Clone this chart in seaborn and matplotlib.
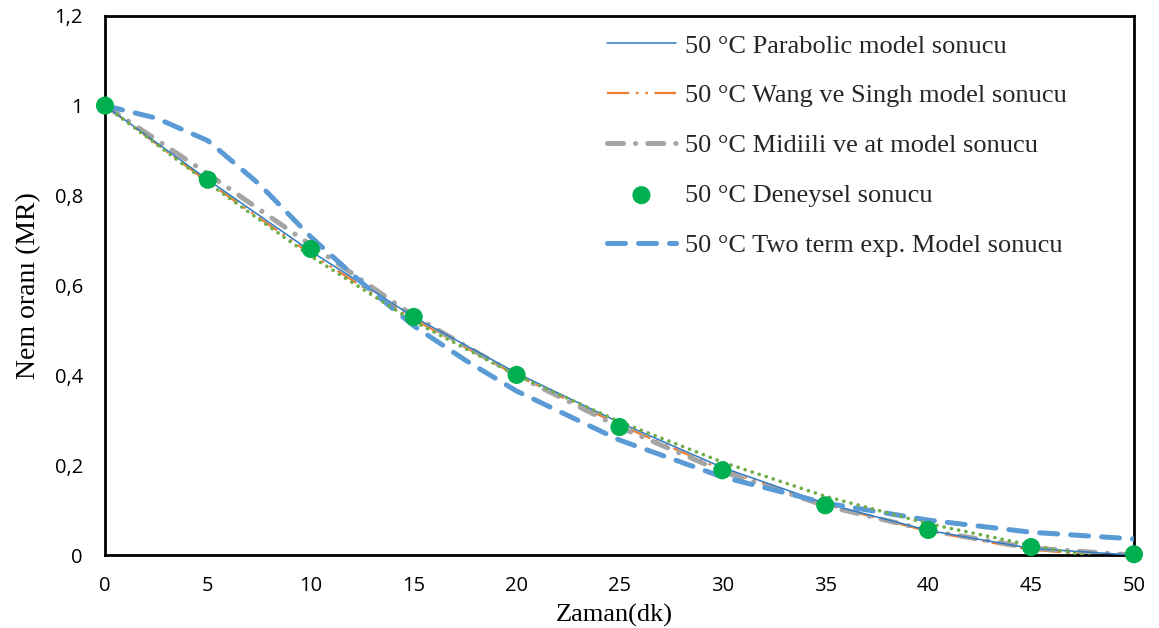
import matplotlib
matplotlib.use("Agg")
import matplotlib.pyplot as plt
import seaborn as sns
import numpy as np
import pandas as pd
from matplotlib.ticker import FuncFormatter, MultipleLocator

# Drying time (min) and moisture ratio values
zaman = [0, 5, 10, 15, 20, 25, 30, 35, 40, 45, 50]
deneysel = [1.0, 0.835, 0.681, 0.530, 0.401, 0.285, 0.189, 0.111, 0.056, 0.018, 0.002]
parabolic = [1.0, 0.835, 0.676, 0.530, 0.405, 0.295, 0.195, 0.115, 0.055, 0.015, 0.000]
wang_singh = [1.0, 0.830, 0.670, 0.525, 0.400, 0.290, 0.190, 0.113, 0.053, 0.012, -0.006]
midilli = [1.0, 0.848, 0.690, 0.532, 0.400, 0.285, 0.186, 0.110, 0.055, 0.016, 0.000]
polinom = [1.0, 0.828, 0.665, 0.520, 0.400, 0.297, 0.207, 0.131, 0.070, 0.022, -0.020]

zaman_tt = [0, 2.5, 5, 7.5, 10, 12.5, 15, 17.5, 20, 25, 30, 35, 40, 45, 50]
two_term = [1.0, 0.972, 0.922, 0.825, 0.708, 0.605, 0.51, 0.434, 0.365, 0.256, 0.174, 0.116, 0.078, 0.051, 0.036]

etiketler = [
    "50 °C Parabolic model sonucu",
    "50 °C Wang ve Singh model sonucu",
    "50 °C Midiili ve at model sonucu",
    "50 °C Deneysel sonucu",
    "50 °C Two term exp. Model sonucu",
]

sns.set_theme(style="white")
plt.rcParams["font.family"] = ["Liberation Serif", "DejaVu Serif"]

fig = plt.figure(figsize=(11.59, 6.28), dpi=100)
ax = fig.add_axes([0.0906, 0.116, 0.8878, 0.859])

sns.lineplot(x=zaman, y=parabolic, ax=ax, color="#2F7BC4", linewidth=1.1,
             label=etiketler[0], zorder=3)
sns.lineplot(x=zaman, y=wang_singh, ax=ax, color="#ED7D31", linewidth=1.6,
             label=etiketler[1], zorder=2)
sns.lineplot(x=zaman, y=midilli, ax=ax, color="#A5A5A5", linewidth=3.6,
             label=etiketler[2], zorder=2)
sns.scatterplot(x=zaman, y=deneysel, ax=ax, color="#00B050", s=170,
                edgecolor="none", label=etiketler[3], zorder=6, clip_on=False)
sns.lineplot(x=zaman_tt, y=two_term, ax=ax, color="#5B9BD5", linewidth=3.6,
             label=etiketler[4], zorder=4)
sns.lineplot(x=zaman, y=polinom, ax=ax, color="#70AD47", linewidth=2.6,
             label="_nolegend_", zorder=5)

lines = ax.get_lines()
lines[1].set_dashes([10, 3, 1.2, 3, 1.2, 3])
lines[2].set_dashes([3.2, 2.4, 0.05, 2.4])
lines[2].set_dash_capstyle("round")
lines[3].set_dashes([3.6, 2.6])
lines[3].set_dash_capstyle("round")
lines[4].set_dashes([0.05, 2.0])
lines[4].set_dash_capstyle("round")


def virgul(v, pos):
    if abs(v - round(v)) < 1e-9:
        return f"{int(round(v))}"
    return f"{v:.1f}".replace(".", ",")


ax.set_xlim(0, 50)
ax.set_ylim(0, 1.2)
ax.xaxis.set_major_locator(MultipleLocator(5))
ax.yaxis.set_major_locator(MultipleLocator(0.2))
ax.yaxis.set_major_formatter(FuncFormatter(virgul))

for lbl in ax.get_xticklabels() + ax.get_yticklabels():
    lbl.set_fontfamily(["Open Sans", "DejaVu Sans"])
ax.tick_params(axis="both", length=0, labelsize=14.5, colors="black")
ax.tick_params(axis="x", pad=15)
ax.tick_params(axis="y", pad=16)

for sp in ax.spines.values():
    sp.set_visible(True)
    sp.set_color("black")
    sp.set_linewidth(2.0)

ax.set_xlabel("Zaman(dk)", fontsize=19, color="black")
ax.set_ylabel("Nem oranı (MR)", fontsize=20, color="black")
ax.xaxis.set_label_coords(0.495, -0.09)
ax.yaxis.set_label_coords(-0.062, 0.5)

leg = ax.legend(loc="upper left", bbox_to_anchor=(0.488, 0.966), frameon=False,
                fontsize=19, handlelength=2.6, handletextpad=0.35,
                labelspacing=1.0, borderaxespad=0, borderpad=0,
                markerscale=1.0)

fig.savefig("out.png", dpi=100)
